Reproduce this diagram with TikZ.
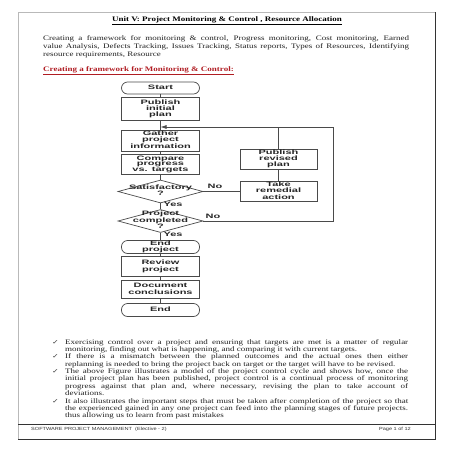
\documentclass[tikz,border=0pt]{standalone}
\usepackage{fontspec}
\setmainfont{Liberation Serif}
\setsansfont{Liberation Sans}
\newfontfamily\djv{DejaVu Sans}
\usetikzlibrary{shapes.geometric,arrows.meta,calc}
\definecolor{hred}{HTML}{B01C22}
\definecolor{fcline}{HTML}{4A4A4A}
\definecolor{fctext}{HTML}{262626}
\newcommand\vsq[2]{\scalebox{1}[#1]{#2}}
\newcommand\fctx[1]{\scalebox{1}[0.58]{\sffamily\bfseries\fontsize{11}{10}\selectfont\begin{tabular}{@{}c@{}}#1\end{tabular}}}
\newcommand\bodyA{\fontsize{9}{10.4}\selectfont}
\newcommand\bodyB{\fontsize{9}{9.6}\selectfont}
\newcommand\chkmark{\vsq{0.8}{\djv\fontsize{8}{8}\selectfont ✓}}
\begin{document}
\begin{tikzpicture}[x=1pt,y=-1pt,
  box/.style={draw=fcline, line width=0.7pt, rectangle, minimum width=78pt, inner sep=0pt, text=fctext},
  term/.style={box, rounded corners=6pt},
  dia/.style={draw=fcline, line width=0.7pt, diamond, minimum width=85pt, minimum height=23pt, inner sep=0pt},
  conn/.style={draw=fcline, line width=0.7pt},
  lbl/.style={text=fctext, inner sep=0pt},
  body/.style={inner sep=0pt, anchor=base west, text=black!88},
  chk/.style={inner sep=0pt, anchor=base, text=black!75}]
\useasboundingbox (0,0) rectangle (453,453);
% page frame
\draw[gray!55, line width=0.6pt] (18,12) rectangle (435,439);
\draw[gray!40!black, line width=1pt] (435,12) -- (435,439) -- (18,439);
\draw[gray!40!black, line width=0.6pt] (18,424) -- (435,424);
% header text
\node[inner sep=0pt, anchor=base] (title) at (227,21.5) {\vsq{0.77}{\fontsize{9}{10}\selectfont\underline{\textbf{Unit V: Project Monitoring \& Control , Resource Allocation}}}};
\node[body] (intro) at (43,40.5) {\vsq{0.77}{\parbox[t]{366pt}{\bodyA Creating a framework for monitoring \& control, Progress monitoring, Cost monitoring, Earned\linebreak value Analysis, Defects Tracking, Issues Tracking, Status reports, Types of Resources, Identifying\linebreak resource requirements, Resource}}};
\node[body, text=hred] (head) at (43,71.5) {\vsq{0.77}{\fontsize{9}{10}\selectfont\underline{\textbf{Creating a framework for Monitoring \& Control:}}}};
% flowchart
\node[term, minimum height=12pt] (start) at (160.5,88) {\fctx{Start}};
\node[box, minimum height=23pt] (pub) at (160.5,109) {\fctx{Publish\\initial\\plan}};
\coordinate (join) at (160.5,127);
\node[box, minimum height=21pt] (gath) at (160.5,140.5) {\fctx{Gather\\project\\information}};
\node[box, minimum height=20pt] (comp) at (160.5,164.5) {\fctx{Compare\\progress\\vs. targets}};
\node[dia] (sat) at (160.5,191.5) {};
\node[lbl] (satl) at (160.5,191) {\fctx{Satisfactory\\?}};
\node[dia] (pc) at (160.5,221) {};
\node[lbl] (pcl) at (160.5,220.5) {\fctx{Project\\completed\\?}};
\node[term, minimum height=13pt] (endp) at (160.5,247) {\fctx{End\\project}};
\node[box, minimum height=20pt] (rev) at (160.5,266.5) {\fctx{Review\\project}};
\node[box, minimum height=18pt] (doc) at (160.5,289.5) {\fctx{Document\\conclusions}};
\node[term, minimum height=13pt] (endn) at (160.5,310) {\fctx{End}};
\node[box, minimum width=77pt, minimum height=20pt] (prp) at (278.5,159) {\fctx{Publish\\revised\\plan}};
\node[box, minimum width=77pt, minimum height=20pt] (tra) at (278.5,191.5) {\fctx{Take\\remedial\\action}};
\coordinate (rt) at (333,127);
\node[lbl] (no1) at (215,187.5) {\fctx{No}};
\node[lbl] (yes1) at (173,205.5) {\fctx{Yes}};
\node[lbl] (no2) at (213,217) {\fctx{No}};
\node[lbl] (yes2) at (173,235.5) {\fctx{Yes}};
\draw[conn] (start) -- (pub);
\draw[conn] (pub) -- (gath);
\draw[conn] (gath) -- (comp);
\draw[conn] (comp) -- (sat);
\draw[conn] (sat) -- (pc);
\draw[conn] (pc) -- (endp);
\draw[conn] (endp) -- (rev);
\draw[conn] (rev) -- (doc);
\draw[conn] (doc) -- (endn);
\draw[conn] (sat.east) -- (sat.east -| tra.west);
\draw[conn] (tra) -- (prp);
\draw[conn] (prp.north) -- (prp.north |- rt);
\draw[conn, -{Latex[length=6pt,width=4pt]}] (pc.east) -| (rt) -- (join);
% bullets
\node[chk] (c1) at (55.5,344) {\chkmark};
\node[body] (b1) at (65,344) {\vsq{0.77}{\parbox[t]{343pt}{\bodyB Exercising control over a project and ensuring that targets are met is a matter of regular\linebreak monitoring, finding out what is happening, and comparing it with current targets.}}};
\node[chk] (c2) at (55.5,358.8) {\chkmark};
\node[body] (b2) at (65,358.8) {\vsq{0.77}{\parbox[t]{343pt}{\bodyB If there is a mismatch between the planned outcomes and the actual ones then either\linebreak replanning is needed to bring the project back on target or the target will have to be revised.}}};
\node[chk] (c3) at (55.5,373.6) {\chkmark};
\node[body] (b3) at (65,373.6) {\vsq{0.77}{\parbox[t]{343pt}{\bodyB The above Figure illustrates a model of the project control cycle and shows how, once the\linebreak initial project plan has been published, project control is a continual process of monitoring\linebreak progress against that plan and, where necessary, revising the plan to take account of\linebreak deviations.}}};
\node[chk] (c4) at (55.5,403.2) {\chkmark};
\node[body] (b4) at (65,403.2) {\vsq{0.77}{\parbox[t]{343pt}{\bodyB It also illustrates the important steps that must be taken after completion of the project so that\linebreak the experienced gained in any one project can feed into the planning stages of future projects.\linebreak thus allowing us to learn from past mistakes}}};
% footer
\node[inner sep=0pt, anchor=base west, text=black!80] (ft) at (31,430.5) {\vsq{0.8}{\sffamily\fontsize{5.6}{6}\selectfont SOFTWARE PROJECT MANAGEMENT\ \ (Elective - 2)}};
\node[inner sep=0pt, anchor=base east, text=black!80] (pg) at (411,430.5) {\vsq{0.8}{\sffamily\fontsize{5.6}{6}\selectfont Page 1 of 12}};
\end{tikzpicture}
\end{document}
